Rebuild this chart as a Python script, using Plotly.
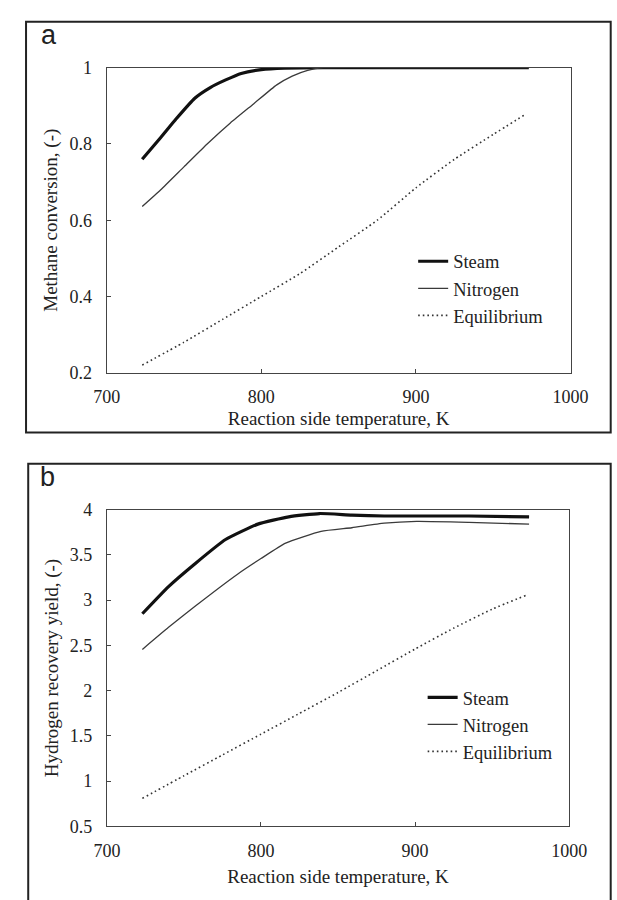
import plotly.graph_objects as go

# ---------------- Data: panel a (methane conversion) ----------------
T_steam_a = [723, 735, 745, 757, 767, 777, 787, 800, 815, 840, 900, 973]
steam_a = [0.760, 0.817, 0.866, 0.920, 0.948, 0.968, 0.985, 0.995, 0.999, 1.0, 1.0, 1.0]

T_nitro_a = [723, 735, 750, 765, 780, 795, 810, 820, 830, 840, 900, 973]
nitro_a = [0.636, 0.680, 0.740, 0.800, 0.855, 0.905, 0.955, 0.978, 0.993, 1.0, 1.0, 1.0]

T_eq_a = [723, 750, 775, 800, 825, 850, 875, 900, 925, 950, 971]
eq_a = [0.22, 0.28, 0.34, 0.40, 0.46, 0.53, 0.60, 0.685, 0.76, 0.825, 0.878]

# ---------------- Data: panel b (hydrogen recovery yield) ----------------
T_steam_b = [723, 740, 757, 777, 798, 818, 838, 859, 880, 935, 974]
steam_b = [2.85, 3.15, 3.40, 3.67, 3.84, 3.92, 3.957, 3.94, 3.93, 3.93, 3.92]

T_nitro_b = [723, 740, 757, 785, 800, 816, 839, 859, 880, 901, 935, 974]
nitro_b = [2.456, 2.70, 2.93, 3.29, 3.46, 3.63, 3.76, 3.80, 3.85, 3.87, 3.86, 3.84]

T_eq_b = [723, 750, 775, 800, 824, 850, 875, 900, 925, 950, 973]
eq_b = [0.81, 1.06, 1.29, 1.52, 1.74, 1.98, 2.22, 2.46, 2.69, 2.90, 3.06]

x_ticks = [700, 800, 900, 1000]
ya_ticks = [0.2, 0.4, 0.6, 0.8, 1.0]
ya_text = ["0.2", "0.4", "0.6", "0.8", "1"]
yb_ticks = [0.5, 1, 1.5, 2, 2.5, 3, 3.5, 4]
yb_text = ["0.5", "1", "1.5", "2", "2.5", "3", "3.5", "4"]

names = ["Steam", "Nitrogen", "Equilibrium"]
x_title = "Reaction side temperature, K"
ya_title = "Methane conversion, (-)"
yb_title = "Hydrogen recovery yield, (-)"

SERIF = "Liberation Serif, Times New Roman, serif"
SANS = "Liberation Sans, Arial, sans-serif"
TXT = "#222222"

styles = [
    dict(color="#111111", width=3.2),
    dict(color="#3a3a3a", width=1.3),
    dict(color="#333333", width=1.6, dash="1.6px,3px"),
]

fig = go.Figure()

for (xs, ys), st, nm in zip(
    [(T_steam_a, steam_a), (T_nitro_a, nitro_a), (T_eq_a, eq_a)], styles, names
):
    fig.add_trace(go.Scatter(x=xs, y=ys, mode="lines", name=nm, line=dict(shape="spline", smoothing=0.5, **st),
                             xaxis="x", yaxis="y", legend="legend"))

for (xs, ys), st, nm in zip(
    [(T_steam_b, steam_b), (T_nitro_b, nitro_b), (T_eq_b, eq_b)], styles, names
):
    fig.add_trace(go.Scatter(x=xs, y=ys, mode="lines", name=nm, line=dict(shape="spline", smoothing=0.5, **st),
                             xaxis="x2", yaxis="y2", legend="legend2"))

axis_common = dict(
    showline=True, mirror=True, linecolor="#444444", linewidth=1,
    ticks="inside", ticklen=4, tickcolor="#444444", tickwidth=1,
    showgrid=False, zeroline=False,
    tickfont=dict(family=SERIF, size=18, color=TXT),
)

W, H = 617, 900
def px_x(p):
    return p / W
def px_y(p):
    return 1 - p / H

fig.update_layout(
    width=W, height=H,
    margin=dict(l=0, r=0, t=0, b=0),
    paper_bgcolor="white", plot_bgcolor="white",
    xaxis=dict(domain=[px_x(97.7), px_x(587)], anchor="y", range=[700, 1000], tickvals=x_ticks,
               title=dict(text=x_title, font=dict(family=SERIF, size=19, color=TXT), standoff=5),
               ticklabelstandoff=8, **axis_common),
    yaxis=dict(domain=[px_y(371), px_y(59)], anchor="x", range=[0.2, 1.0], tickvals=ya_ticks, ticktext=ya_text,
               title=dict(text=ya_title, font=dict(family=SERIF, size=19, color=TXT), standoff=6),
               ticklabelstandoff=10, **axis_common),
    xaxis2=dict(domain=[px_x(98), px_x(585.5)], anchor="y2", range=[700, 1000], tickvals=x_ticks,
                title=dict(text=x_title, font=dict(family=SERIF, size=19, color=TXT), standoff=9),
                ticklabelstandoff=8, **axis_common),
    yaxis2=dict(domain=[px_y(835), px_y(511)], anchor="x2", range=[0.5, 4.0], tickvals=yb_ticks, ticktext=yb_text,
                title=dict(text=yb_title, font=dict(family=SERIF, size=19, color=TXT), standoff=6),
                ticklabelstandoff=10, **axis_common),
    legend=dict(x=px_x(421), y=px_y(238), xanchor="left", yanchor="top",
                bgcolor="rgba(0,0,0,0)", font=dict(family=SERIF, size=18.5, color=TXT), tracegroupgap=0),
    legend2=dict(x=px_x(431), y=px_y(684), xanchor="left", yanchor="top",
                 bgcolor="rgba(0,0,0,0)", font=dict(family=SERIF, size=18.5, color=TXT), tracegroupgap=0),
    showlegend=True,
)

# outer panel boxes
fig.add_shape(type="rect", xref="paper", yref="paper",
              x0=px_x(12.7), x1=1.02, y0=px_y(432), y1=px_y(12),
              line=dict(color="#222222", width=2), fillcolor="rgba(0,0,0,0)", layer="below")
fig.add_shape(type="rect", xref="paper", yref="paper",
              x0=px_x(15), x1=1.02, y0=-0.02, y1=px_y(464),
              line=dict(color="#222222", width=2), fillcolor="rgba(0,0,0,0)", layer="below")

# panel labels
fig.add_annotation(text="a", xref="paper", yref="paper", x=px_x(26), y=px_y(43),
                   xanchor="left", yanchor="bottom", showarrow=False,
                   font=dict(family=SANS, size=27, color=TXT))
fig.add_annotation(text="b", xref="paper", yref="paper", x=px_x(25), y=px_y(495),
                   xanchor="left", yanchor="bottom", showarrow=False,
                   font=dict(family=SANS, size=27, color=TXT))

fig.write_html("out.html", config={"displayModeBar": False},
               post_script="document.body.style.margin='0';document.body.style.overflow='hidden';")
